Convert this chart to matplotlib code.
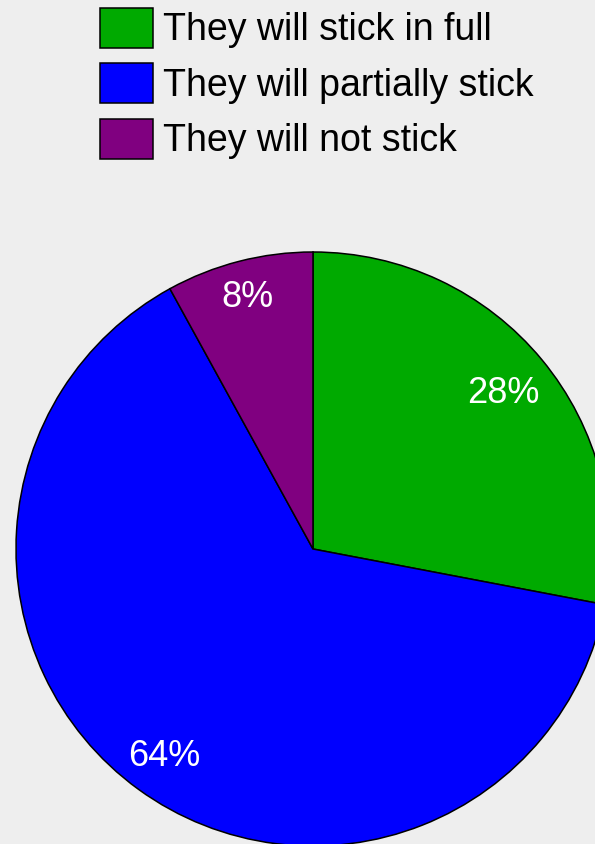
import numpy as np
import matplotlib.pyplot as plt

# --- Data ---
labels = ["They will stick in full", "They will partially stick", "They will not stick"]
shares = [28, 64, 8]
colors = ["#00aa00", "#0000ff", "#800080"]
label_dist = [0.832, 0.852, 0.882]

W, H = 595, 844
CX, CY, R = 313, H - 549, 297

plt.rcParams['font.family'] = ['Liberation Sans', 'DejaVu Sans']

fig = plt.figure(figsize=(W / 100, H / 100), dpi=100, facecolor="#eeeeee")
ax = fig.add_axes([0, 0, 1, 1])
ax.set_facecolor("#eeeeee")

wedges, texts, autotexts = ax.pie(
    shares, colors=colors, startangle=90, counterclock=False,
    center=(CX, CY), radius=R,
    autopct=lambda p: f"{p:.0f}%", pctdistance=0.85,
    wedgeprops={'edgecolor': 'black', 'linewidth': 1.1},
    textprops={'color': 'white', 'fontsize': 26},
)

# nudge the percentage labels to where the reference has them
for w, t, d in zip(wedges, autotexts, label_dist):
    mid = np.deg2rad((w.theta1 + w.theta2) / 2)
    t.set_position((CX + d * R * np.cos(mid), CY + d * R * np.sin(mid) - 2.5))

ax.set_xlim(0, W)
ax.set_ylim(0, H)
ax.set_aspect('auto')
ax.axis('off')

leg = fig.legend(
    wedges, labels, loc="upper left",
    bbox_to_anchor=(100 / W, 1 - 8 / H), frameon=False,
    fontsize=27, borderpad=0, borderaxespad=0,
    handlelength=1.41, handleheight=1.25, handletextpad=0.27, labelspacing=0.4,
)

fig.savefig("out.png", dpi=100, facecolor=fig.get_facecolor())
